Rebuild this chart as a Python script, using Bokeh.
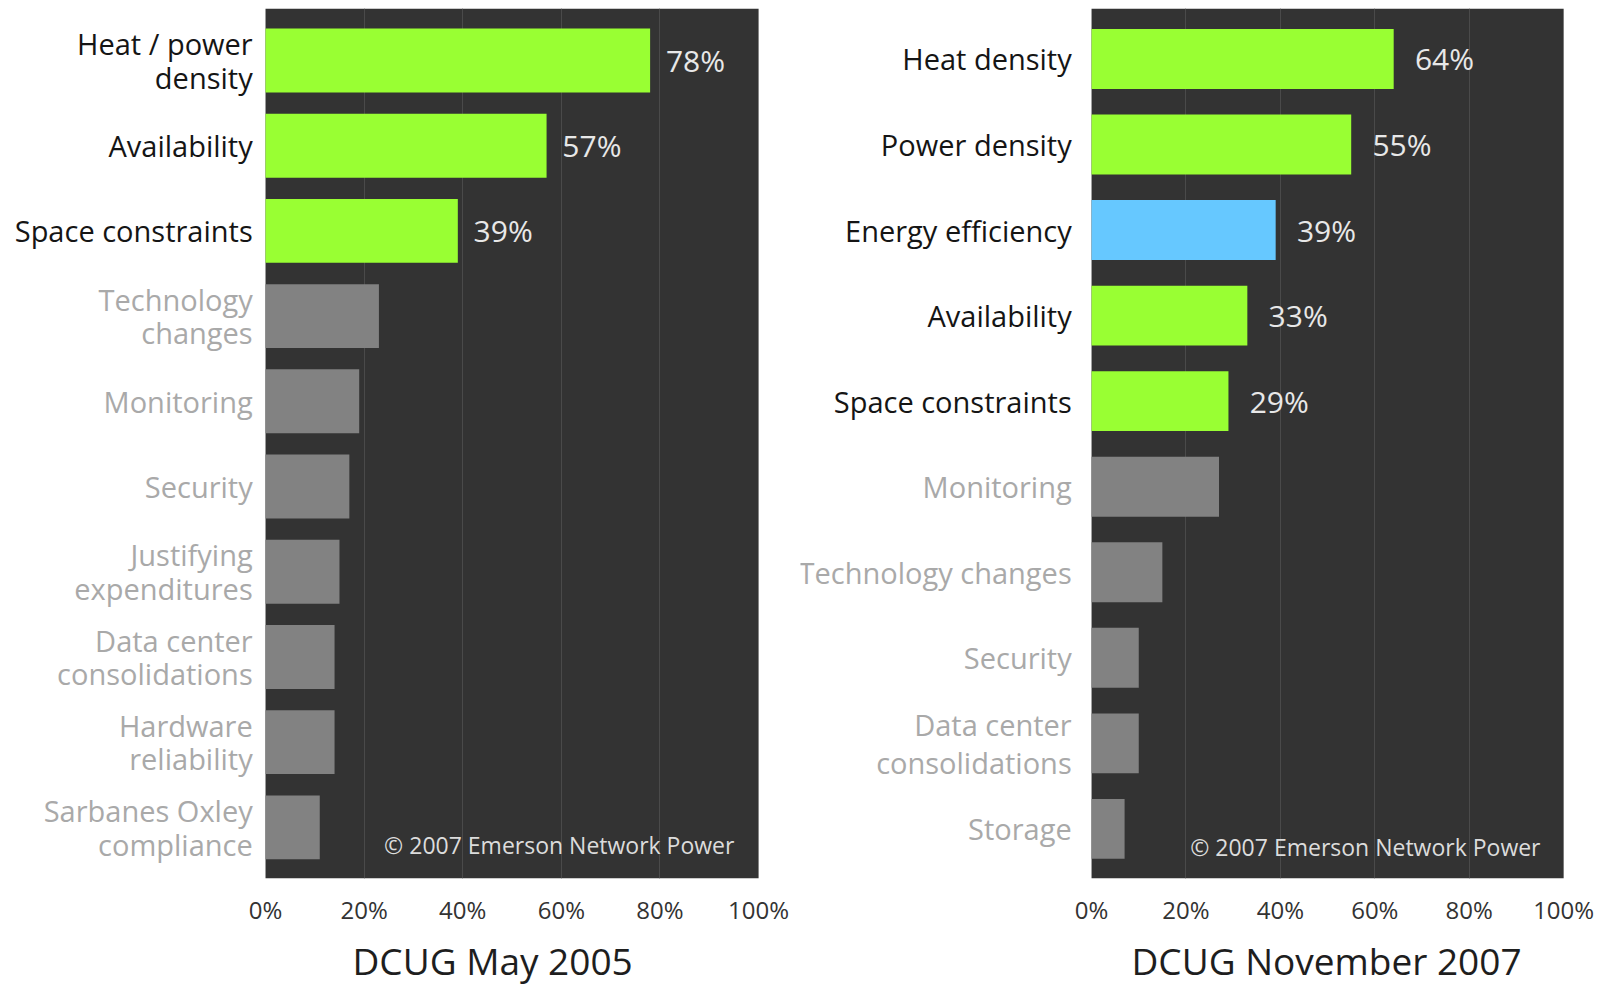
from bokeh.plotting import figure
from bokeh.models import ColumnDataSource, Range1d, FixedTicker, PrintfTickFormatter, Title, Label
from bokeh.transform import factor_cmap
from bokeh.core.properties import value
from bokeh.layouts import row
from bokeh.embed import file_html
from bokeh.resources import INLINE

# ---------------- data ----------------
cats_2005 = ["Heat / power\ndensity", "Availability", "Space constraints",
             "Technology\nchanges", "Monitoring", "Security",
             "Justifying\nexpenditures", "Data center\nconsolidations",
             "Hardware\nreliability", "Sarbanes Oxley\ncompliance"]
vals_2005 = [78, 57, 39, 23, 19, 17, 15, 14, 14, 11]
group_2005 = ["top", "top", "top", "other", "other", "other", "other", "other", "other", "other"]

cats_2007 = ["Heat density", "Power density", "Energy efficiency", "Availability",
             "Space constraints", "Monitoring", "Technology changes", "Security",
             "Data center\nconsolidations", "Storage"]
vals_2007 = [64, 55, 39, 33, 29, 27, 15, 10, 10, 7]
group_2007 = ["top", "top", "new", "top", "top", "other", "other", "other", "other", "other"]

ticks = [0, 20, 40, 60, 80, 100]
grid_ticks = [20, 40, 60, 80]
titles = ["DCUG May 2005", "DCUG November 2007"]
credit = "\u00a9 2007 Emerson Network Power"

GROUPS = ["top", "new", "other"]
BAR_COLORS = ["#99ff33", "#66c8ff", "#828282"]
TEXT_COLORS = ["#151515", "#151515", "#a9a9a9"]
FONT = "Open Sans"


def panel(cats, vals, groups, title, width, x_lo, x_hi, y_lo, y_hi, bar_h,
          lab_dx, pct_dx, line_h, title_offset):
    n = len(cats)
    idx = list(range(n))
    src = ColumnDataSource(dict(y=idx, v=vals, cat=cats, g=groups))
    sel = [i for i in idx if groups[i] != "other"]
    src_pct = ColumnDataSource(dict(y=[idx[i] for i in sel],
                                    xl=[vals[i] + pct_dx for i in sel],
                                    pct=[f"{vals[i]}%" for i in sel]))

    p = figure(width=width, height=992, output_backend="svg", toolbar_location=None,
               x_range=Range1d(x_lo, x_hi), y_range=Range1d(y_hi, y_lo),
               y_axis_location=None, min_border_left=0, min_border_right=0,
               min_border_top=8, min_border_bottom=114)
    p.outline_line_color = None
    p.background_fill_color = "white"
    p.border_fill_color = "white"

    # dark panel behind everything
    p.quad(left=[0], right=[100], bottom=[y_hi], top=[y_lo],
           fill_color="#333333", line_color=None, level="image")

    p.ygrid.visible = False
    p.xgrid.ticker = FixedTicker(ticks=grid_ticks)
    p.xgrid.grid_line_color = "#4a4a4a"
    p.xgrid.grid_line_width = 1

    p.hbar(y="y", right="v", left=0, height=bar_h, source=src,
           fill_color=factor_cmap("g", BAR_COLORS, GROUPS), line_color=None)

    # category labels
    p.text(x=lab_dx, y="y", text="cat", source=src, text_align="right",
           text_baseline="middle", text_font=value(FONT), text_font_size="29px",
           text_line_height=line_h,
           text_color=factor_cmap("g", TEXT_COLORS, GROUPS))

    # value labels
    p.text(x="xl", y="y", text="pct", source=src_pct, text_align="left",
           text_baseline="middle", text_font=value(FONT), text_font_size="30px",
           text_color="#e8e8e8")

    p.add_layout(Label(x=95.1, y=9.21, text=credit, text_align="right",
                       text_baseline="middle", text_font=FONT,
                       text_font_size="23px", text_color="#dcdcdc"))

    ax = p.xaxis[0]
    ax.ticker = FixedTicker(ticks=ticks)
    ax.formatter = PrintfTickFormatter(format="%d%%")
    ax.axis_line_color = None
    ax.major_tick_line_color = None
    ax.minor_tick_line_color = None
    ax.major_tick_out = 0
    ax.major_label_standoff = 14
    ax.major_label_text_font = FONT
    ax.major_label_text_font_size = "24px"
    ax.major_label_text_color = "#333333"

    p.add_layout(Title(text=title, align="left", offset=title_offset,
                       text_font=FONT, text_font_size="37px",
                       text_font_style="normal", text_color="#1e1e1e",
                       standoff=8), "below")
    return p


p1 = panel(cats_2005, vals_2005, group_2005, titles[0], 800,
           -53.75, 108.5, -0.61, 9.60, 0.75, -2.6, 3.2, 0.86, 352)
p2 = panel(cats_2007, vals_2007, group_2007, titles[1], 808,
           -61.65, 109.5, -0.59, 9.58, 0.70, -4.2, 4.5, 0.97, 331)

layout = row(p1, p2, spacing=0)
open("out.html", "w").write(file_html(layout, INLINE))
